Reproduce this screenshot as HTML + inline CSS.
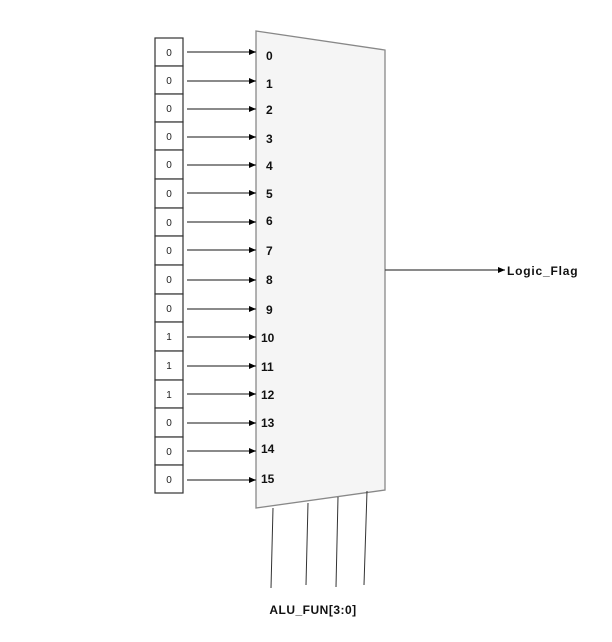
<!DOCTYPE html>
<html><head><style>body{margin:0;background:#fff}svg{display:block}</style></head><body>
<svg width="612" height="642" xmlns="http://www.w3.org/2000/svg" font-family="Liberation Sans, Arial, sans-serif">
<defs><marker id="a" markerWidth="8" markerHeight="8" refX="7" refY="4" orient="auto" markerUnits="userSpaceOnUse"><path d="M0,1 L7,4 L0,7 Z" fill="#000"/></marker></defs>
<polygon points="256,31 385,50 385,490 256,508" fill="#f5f5f5" stroke="#888" stroke-width="1.3"/>
<g stroke="#333" stroke-width="1.2" fill="#fff">
<rect x="155" y="38" width="28" height="28"/><rect x="155" y="66" width="28" height="28"/><rect x="155" y="94" width="28" height="28"/><rect x="155" y="122" width="28" height="28"/><rect x="155" y="150" width="28" height="29"/><rect x="155" y="179" width="28" height="29"/><rect x="155" y="208" width="28" height="28"/><rect x="155" y="236" width="28" height="29"/><rect x="155" y="265" width="28" height="29"/><rect x="155" y="294" width="28" height="28"/><rect x="155" y="322" width="28" height="29"/><rect x="155" y="351" width="28" height="29"/><rect x="155" y="380" width="28" height="28"/><rect x="155" y="408" width="28" height="29"/><rect x="155" y="437" width="28" height="28"/><rect x="155" y="465" width="28" height="28"/>
</g>
<g font-size="10" fill="#222" text-anchor="middle">
<text x="169" y="56">0</text><text x="169" y="84">0</text><text x="169" y="112">0</text><text x="169" y="140">0</text><text x="169" y="168">0</text><text x="169" y="197">0</text><text x="169" y="226">0</text><text x="169" y="254">0</text><text x="169" y="283">0</text><text x="169" y="312">0</text><text x="169" y="340">1</text><text x="169" y="369">1</text><text x="169" y="398">1</text><text x="169" y="426">0</text><text x="169" y="455">0</text><text x="169" y="483">0</text>
</g>
<g stroke="#444" stroke-width="1.2" marker-end="url(#a)">
<line x1="187" y1="52" x2="256" y2="52"/><line x1="187" y1="81" x2="256" y2="81"/><line x1="187" y1="109" x2="256" y2="109"/><line x1="187" y1="137" x2="256" y2="137"/><line x1="187" y1="165" x2="256" y2="165"/><line x1="187" y1="193" x2="256" y2="193"/><line x1="187" y1="222" x2="256" y2="222"/><line x1="187" y1="250" x2="256" y2="250"/><line x1="187" y1="280" x2="256" y2="280"/><line x1="187" y1="309" x2="256" y2="309"/><line x1="187" y1="337" x2="256" y2="337"/><line x1="187" y1="366" x2="256" y2="366"/><line x1="187" y1="394" x2="256" y2="394"/><line x1="187" y1="423" x2="256" y2="423"/><line x1="187" y1="451" x2="256" y2="451"/><line x1="187" y1="480" x2="256" y2="480"/>
<line x1="385" y1="270" x2="505" y2="270"/>
</g>
<g font-size="12" font-weight="bold" fill="#111">
<text x="266" y="60">0</text><text x="266" y="88">1</text><text x="266" y="114">2</text><text x="266" y="143">3</text><text x="266" y="170">4</text><text x="266" y="198">5</text><text x="266" y="225">6</text><text x="266" y="255">7</text><text x="266" y="284">8</text><text x="266" y="314">9</text><text x="261" y="342">10</text><text x="261" y="371">11</text><text x="261" y="399">12</text><text x="261" y="427">13</text><text x="261" y="453">14</text><text x="261" y="483">15</text>
<text x="507" y="275" letter-spacing="0.8">Logic_Flag</text>
<text x="313" y="614" text-anchor="middle" letter-spacing="0.5">ALU_FUN[3:0]</text>
</g>
<g stroke="#333" stroke-width="1">
<line x1="273" y1="508" x2="271" y2="588"/><line x1="308" y1="503" x2="306" y2="585"/><line x1="338" y1="497" x2="336" y2="587"/><line x1="367" y1="491" x2="364" y2="585"/>
</g>
</svg>
</body></html>
